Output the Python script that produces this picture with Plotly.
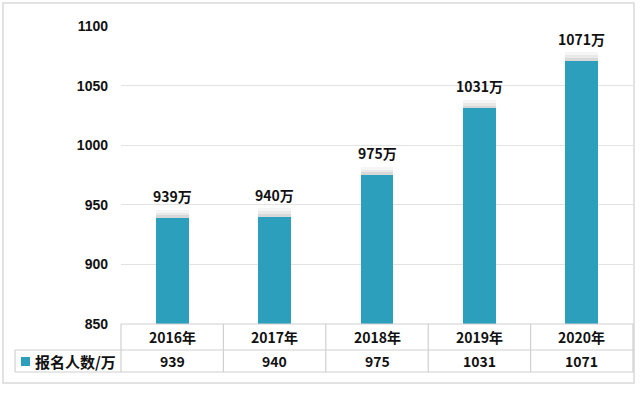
import plotly.graph_objects as go

years = ["2016年", "2017年", "2018年", "2019年", "2020年"]
values = [939, 940, 975, 1031, 1071]
series_name = "报名人数/万"
y_ticks = [850, 900, 950, 1000, 1050, 1100]

W, H = 640, 396
BAR = "#2C9FBD"
GRID = "#E3E3E3"
LINE = "#D0D0D0"
NUM_FONT = "Liberation Sans"
CJK_FONT = "Noto Sans CJK SC"

def px(x):
    return x / W

def py(y):
    return 1 - y / H

x_left, x_right = 121, 633
y_top, y_bot = 26, 324

fig = go.Figure()
xs = list(range(len(years)))

for h, a in ((7, 0.08), (4.5, 0.12), (2.2, 0.18)):
    fig.add_trace(go.Bar(x=xs, y=[h] * len(values), base=values, width=0.32,
                         marker=dict(color=f"rgba(140,140,140,{a})", line_width=0),
                         hoverinfo="skip", showlegend=False))
fig.add_trace(go.Bar(x=xs, y=[v - 850 for v in values], base=850, width=0.32,
                     marker=dict(color=BAR, line_width=0), showlegend=False,
                     name=series_name))

annotations = []
for i, v in enumerate(values):
    annotations.append(dict(x=i, y=v, xref="x", yref="y", text=f"<b>{v}万</b>",
                            showarrow=False, yanchor="bottom", yshift=10,
                            font=dict(family=CJK_FONT, size=14, color="#111111")))

shapes = []
shapes.append(dict(type="rect", xref="paper", yref="paper",
                   x0=px(3), x1=px(634), y0=py(383), y1=py(3),
                   line=dict(color="#D9D9D9", width=1.5)))

col_edges = [x_left + (x_right - x_left) * k / len(years) for k in range(len(years) + 1)]
r0, r1, r2 = 324, 350, 372
shapes.append(dict(type="line", xref="paper", yref="paper", x0=px(x_left), x1=px(x_right),
                   y0=py(r0), y1=py(r0), line=dict(color=LINE, width=1.2)))
for r in (r1, r2):
    shapes.append(dict(type="line", xref="paper", yref="paper", x0=px(15), x1=px(x_right),
                       y0=py(r), y1=py(r), line=dict(color=LINE, width=1.2)))
for ce in col_edges:
    shapes.append(dict(type="line", xref="paper", yref="paper", x0=px(ce), x1=px(ce),
                       y0=py(r0), y1=py(r2), line=dict(color=LINE, width=1.2)))
shapes.append(dict(type="line", xref="paper", yref="paper", x0=px(15), x1=px(15),
                   y0=py(r1), y1=py(r2), line=dict(color=LINE, width=1.2)))
shapes.append(dict(type="rect", xref="paper", yref="paper", x0=px(21), x1=px(30),
                   y0=py(366), y1=py(357), fillcolor=BAR, line_width=0))

for i, (yr, v) in enumerate(zip(years, values)):
    annotations.append(dict(x=i, y=py((r0 + r1) / 2), xref="x", yref="paper",
                            text=f"<b>{yr}</b>", showarrow=False, yanchor="middle",
                            font=dict(family=CJK_FONT, size=14, color="#111111")))
    annotations.append(dict(x=i, y=py((r1 + r2) / 2), xref="x", yref="paper",
                            text=f"<b>{v}</b>", showarrow=False, yanchor="middle",
                            font=dict(family=CJK_FONT, size=14, color="#111111")))
annotations.append(dict(x=px(33), y=py((r1 + r2) / 2), xref="paper", yref="paper",
                        text=f"<b>{series_name}</b>", showarrow=False, xanchor="left",
                        yanchor="middle",
                        font=dict(family=CJK_FONT, size=15, color="#111111")))

fig.update_layout(
    width=W, height=H, autosize=False, margin=dict(l=0, r=0, t=0, b=0, pad=0),
    paper_bgcolor="white", plot_bgcolor="white",
    barmode="overlay", bargap=0,
    xaxis=dict(domain=[px(x_left), px(x_right)], range=[-0.5, len(years) - 0.5],
               showticklabels=False, showgrid=False, zeroline=False, showline=False,
               automargin=False, fixedrange=True),
    yaxis=dict(domain=[py(y_bot), py(y_top)], range=[850, 1100], tickvals=y_ticks,
               ticktext=[f"<b>{t}</b>" for t in y_ticks],
               showgrid=True, gridcolor=GRID, gridwidth=1, zeroline=False, showline=False,
               ticks="", ticklabelstandoff=12, automargin=False,
               tickfont=dict(family=NUM_FONT, size=14, color="#111111")),
    annotations=annotations, shapes=shapes, showlegend=False,
)

fig.write_html("out.html", config={"displayModeBar": False},
               post_script="document.body.style.margin='0';")
